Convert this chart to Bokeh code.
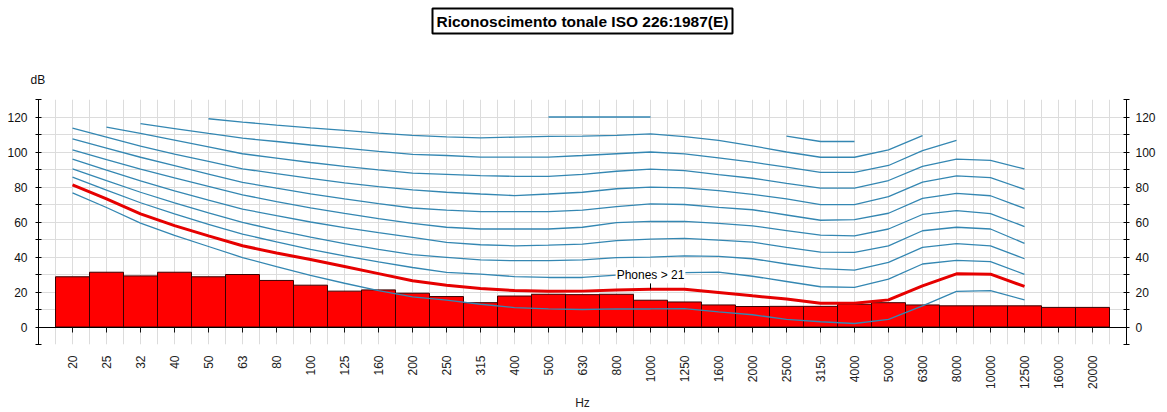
import math
from bokeh.plotting import figure
from bokeh.models import Range1d, FixedTicker, LinearAxis, Label, Grid, Title
from bokeh.embed import file_html
from bokeh.resources import INLINE

nan = float("nan")

# Third-octave bands (tick labels)
freq_labels = ["20", "25", "32", "40", "50", "63", "80", "100", "125", "160",
               "200", "250", "315", "400", "500", "630", "800", "1000", "1250", "1600",
               "2000", "2500", "3150", "4000", "5000", "6300", "8000", "10000", "12500",
               "16000", "20000"]

# Measured band levels (dB)
band_levels = [28.7, 31.3, 29.2, 31.3, 28.7, 30.0, 26.6, 23.9, 20.5, 21.2,
               19.3, 17.4, 13.9, 17.7, 18.7, 18.5, 18.7, 15.3, 14.3, 12.6,
               11.7, 11.8, 11.8, 13.0, 13.9, 12.6, 12.1, 12.1, 12.1, 11.2, 11.2]

# Equal-loudness contours ISO 226:1987 (20 Hz .. 12500 Hz), dB SPL
phon_10 = [76.6, 68.3, 59.4, 52.3, 46.0, 39.7, 34.5, 29.5, 25.0, 20.8, 17.2, 15.3, 13.0, 11.1, 10.4,
           10.0, 10.3, 10.3, 10.5, 8.6, 7.0, 4.4, 3.0, 2.0, 4.4, 12.1, 20.4, 20.8, 15.5]
phon_21 = [81.2, 73.2, 64.6, 57.9, 52.1, 46.4, 42.3, 38.6, 34.6, 30.5, 26.4, 23.8, 22.0, 20.8, 20.4,
           20.5, 21.2, 21.6, 21.6, 19.7, 17.8, 16.0, 13.6, 13.6, 15.5, 23.5, 30.4, 30.2, 23.2]
phon_30 = [85.6, 78.2, 71.0, 64.6, 58.7, 53.1, 48.6, 44.3, 40.6, 37.2, 34.0, 31.2, 30.2, 28.8, 28.3,
           28.3, 29.7, 30.4, 31.1, 31.3, 29.0, 26.0, 23.0, 22.6, 27.4, 36.0, 38.1, 37.3, 30.1]
phon_40 = [90.4, 83.6, 77.0, 70.9, 65.2, 59.8, 55.3, 51.3, 47.6, 44.3, 41.3, 39.8, 38.3, 37.9, 37.9,
           38.3, 39.6, 39.9, 40.6, 40.3, 39.0, 36.0, 33.3, 32.5, 36.9, 45.5, 47.6, 46.4, 39.0]
phon_50 = [95.9, 89.6, 83.5, 77.8, 72.5, 67.4, 63.6, 60.0, 56.8, 53.9, 51.2, 48.3, 47.0, 46.4, 46.8,
           47.3, 49.3, 50.2, 50.6, 49.7, 48.5, 45.5, 42.8, 42.6, 46.4, 55.0, 57.0, 56.0, 47.8]
phon_60 = [101.2, 95.6, 90.2, 85.2, 80.3, 75.5, 71.7, 68.1, 64.9, 61.9, 59.2, 57.0, 56.0, 56.0, 56.0,
           57.0, 59.6, 60.3, 60.3, 59.2, 57.8, 55.1, 52.5, 52.1, 56.0, 64.3, 66.5, 64.8, 57.4]
phon_70 = [107.5, 102.2, 97.0, 92.2, 87.4, 82.7, 79.3, 76.1, 73.2, 70.5, 68.0, 66.8, 65.9, 65.9, 65.9,
           66.8, 68.8, 70.4, 70.0, 68.4, 67.0, 64.0, 61.0, 61.3, 65.0, 73.5, 76.4, 75.0, 67.8]
phon_80 = [113.6, 108.5, 103.4, 98.8, 94.6, 90.4, 87.6, 84.9, 82.4, 80.2, 78.3, 77.0, 76.0, 75.1, 76.0,
           77.0, 79.0, 79.9, 79.5, 77.9, 75.8, 73.2, 69.9, 69.9, 74.5, 82.8, 86.3, 85.4, 78.6]
phon_90 = [nan, 114.2, 110.6, 106.8, 102.9, 99.0, 96.5, 94.0, 91.8, 89.8, 87.9, 87.2, 86.5, 86.1, 86.1,
           87.2, 89.0, 90.2, 89.4, 87.1, 85.0, 82.1, 79.4, 79.4, 83.7, 91.8, 95.9, 95.2, 90.3]
phon_100 = [nan, nan, 116.2, 113.4, 110.6, 107.9, 106.0, 104.0, 102.2, 100.3, 98.6, 98.0, 97.1, 97.1, 97.1,
            98.0, 99.0, 100.0, 98.9, 96.7, 94.2, 91.3, 88.4, 88.4, 92.3, 100.8, 106.6, nan, nan]
phon_110 = [nan, nan, nan, nan, 119.0, 117.1, 115.4, 113.8, 112.3, 110.8, 109.5, 108.7, 108.1, 108.5, 108.9,
            109.1, 109.5, 110.4, 108.8, 106.6, 103.5, 100.0, 97.0, 97.0, 101.2, 109.4, nan, nan, nan]
phon_120 = [nan, nan, nan, nan, nan, nan, nan, nan, nan, nan, nan, nan, nan, nan, 120.0,
            120.0, 120.0, 120.0, nan, nan, nan, 109.1, 106.0, 106.0, nan, nan, nan, nan, nan]

blue_contours = [phon_10, phon_30, phon_40, phon_50, phon_60, phon_70,
                 phon_80, phon_90, phon_100, phon_110, phon_120]
highlight_label = "Phones > 21"
highlight_freq = "1000"

y_major = [0, 20, 40, 60, 80, 100, 120]
y_minor = [-10, 10, 30, 50, 70, 90, 110, 130]

FONT = "Liberation Sans"
n = len(freq_labels)
xpos = [i + 1 for i in range(n)]
xc = xpos[:len(phon_21)]

p = figure(width=1167, height=412, output_backend="svg", toolbar_location=None,
           x_range=Range1d(0, n + 1), y_range=Range1d(-10, 130),
           x_axis_type=None, y_axis_type=None, title=None,
           min_border_left=38, min_border_right=41, min_border_top=99, min_border_bottom=68)
p.outline_line_color = None
p.background_fill_color = "white"
p.border_fill_color = "white"

# --- header stack (inner -> outer): unit label, spacer, main title
unit_title = Title(text="dB", align="left", offset=-8, vertical_align="middle",
                   standoff=23, text_font=FONT, text_font_size="12px",
                   text_font_style="normal", text_color="#111111")
p.add_layout(unit_title, "above")

gap = Title(text=" ", standoff=3, text_font=FONT, text_font_size="12px")
p.add_layout(gap, "above")

main_title = Title(text="Riconoscimento tonale ISO 226:1987(E)", align="center",
                   vertical_align="middle", standoff=14, text_font=FONT,
                   text_font_size="15.5px", text_font_style="bold", text_color="black",
                   border_line_color="black", border_line_width=2, padding=4)
p.add_layout(main_title, "above")

# grids
half_steps = [0.5 + 0.5 * k for k in range(2 * n + 1)]
p.add_layout(Grid(dimension=0, ticker=FixedTicker(ticks=half_steps),
                  grid_line_color="#DCDCDC", grid_line_width=1))
p.add_layout(Grid(dimension=1, ticker=FixedTicker(ticks=list(range(-10, 131, 10))),
                  grid_line_color="#DCDCDC", grid_line_width=1))

# bars
p.vbar(x=xpos, top=band_levels, bottom=0, width=1.0,
       fill_color="#FF0000", line_color="#3A0000", line_width=1)

# contours
for c in blue_contours:
    p.line(xc, c, line_color="#3487B2", line_width=1.3)
p.line(xc, phon_21, line_color="#E60000", line_width=3)

# label with pointer
k = freq_labels.index(highlight_freq)
xk, yk = xpos[k], phon_21[k]
p.segment(x0=[xk], y0=[yk], x1=[xk], y1=[yk + 3.4], line_color="black", line_width=1)
p.add_layout(Label(x=xk, y=yk, y_offset=6, text=highlight_label, text_align="center",
                   text_baseline="bottom", text_font=FONT, text_font_size="12px",
                   text_color="black", background_fill_color="white", padding=1))

# axes
tick_labels = {x: lab for x, lab in zip(xpos, freq_labels)}
xb = LinearAxis(ticker=FixedTicker(ticks=xpos), major_label_overrides=tick_labels,
                major_label_orientation=math.pi / 2, major_tick_out=0, major_tick_in=0,
                axis_line_color=None, major_label_standoff=11,
                major_label_text_font=FONT, major_label_text_font_size="12px",
                major_label_text_color="#222222", axis_label="Hz",
                axis_label_text_font=FONT, axis_label_text_font_size="12px",
                axis_label_text_font_style="normal", axis_label_standoff=4,
                axis_label_text_color="#222222")
p.add_layout(xb, "below")

x0 = LinearAxis(fixed_location=0, ticker=FixedTicker(ticks=xpos),
                major_tick_out=5, major_tick_in=0, major_tick_line_color="#111111",
                axis_line_color="black", axis_line_width=1,
                major_label_text_color=None, major_label_text_font_size="1px")
p.add_layout(x0, "below")

for side, standoff in (("left", 8), ("right", 6)):
    ya = LinearAxis(ticker=FixedTicker(ticks=y_major, minor_ticks=y_minor),
                    major_tick_in=3, major_tick_out=3, minor_tick_in=3, minor_tick_out=3,
                    axis_line_color="black", major_tick_line_color="black",
                    minor_tick_line_color="black", major_label_standoff=standoff,
                    major_label_text_font=FONT, major_label_text_font_size="12px",
                    major_label_text_color="#111111")
    p.add_layout(ya, side)

open("out.html", "w").write(file_html(p, INLINE))
